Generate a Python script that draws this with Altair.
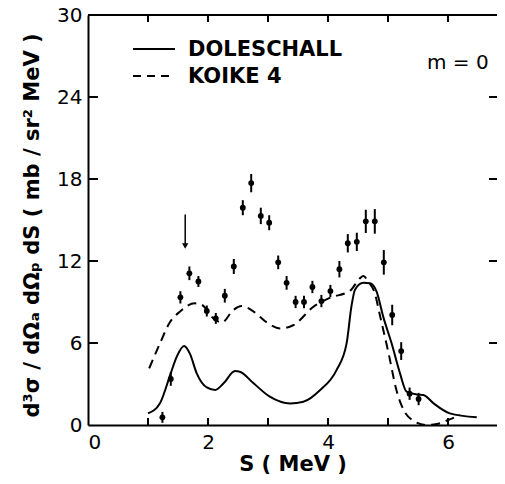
import altair as alt
import pandas as pd

# ---- data ----
pt_s = [1.24, 1.38, 1.54, 1.69, 1.84, 1.98, 2.13, 2.28, 2.43, 2.58, 2.72, 2.88, 3.02, 3.17, 3.31,
        3.46, 3.60, 3.74, 3.89, 4.04, 4.19, 4.33, 4.48, 4.63, 4.78, 4.93, 5.07, 5.22, 5.36, 5.51]
pt_y = [0.56, 3.37, 9.34, 11.1, 10.5, 8.34, 7.8, 9.46, 11.6, 15.9, 17.7, 15.3, 14.8, 11.9, 10.4,
        9.0, 9.0, 10.1, 9.07, 9.8, 11.4, 13.3, 13.4, 14.9, 14.9, 11.9, 8.05, 5.41, 2.29, 1.9]
pt_err = [0.4, 0.5, 0.45, 0.5, 0.4, 0.4, 0.4, 0.5, 0.55, 0.55, 0.67, 0.6, 0.55, 0.5, 0.5,
          0.45, 0.45, 0.45, 0.45, 0.45, 0.6, 0.67, 0.67, 0.85, 0.9, 0.9, 0.75, 0.65, 0.45, 0.45]

dol_s = [1.0, 1.2, 1.38, 1.48, 1.6, 1.7, 1.81, 1.98, 2.12, 2.26, 2.45, 2.53, 2.76, 3.03, 3.37,
         3.59, 3.87, 4.14, 4.31, 4.39, 4.45, 4.59, 4.7, 4.81, 4.92, 5.06, 5.2, 5.31, 5.48, 5.59,
         5.76, 6.03, 6.48]
dol_y = [0.85, 1.6, 3.8, 5.0, 5.78, 5.2, 3.8, 2.75, 2.56, 3.05, 3.95, 3.9, 3.05, 2.07, 1.58,
         1.7, 2.56, 4.0, 5.97, 8.66, 9.9, 10.4, 10.37, 9.76, 7.93, 5.98, 3.78, 2.44, 2.24, 2.2,
         1.58, 0.85, 0.56]

koi_s = [1.02, 1.2, 1.37, 1.53, 1.78, 1.9, 2.09, 2.23, 2.42, 2.56, 2.76, 2.98, 3.2, 3.42, 3.76,
         4.03, 4.37, 4.53, 4.59, 4.67, 4.78, 4.87, 5.01, 5.14, 5.26, 5.42, 5.64, 5.81, 6.03, 6.2]
koi_y = [4.15, 5.98, 7.56, 8.29, 8.9, 8.78, 7.8, 7.5, 8.4, 8.7, 8.3, 7.5, 7.07, 7.3, 8.66,
         9.3, 9.83, 10.73, 10.9, 10.5, 9.63, 7.93, 5.24, 2.56, 1.1, 0.32, 0.0, 0.07, 0.41, 0.73]

arrow_s = [1.62]
arrow_top = [15.4]
arrow_tip = [13.1]

x_labels = [0, 2, 4, 6]
x_minor = [1, 2, 3, 4, 5, 6]
y_labels = [0, 6, 12, 18, 24, 30]
y_minor = [6, 12, 18, 24]

W, H = 409, 410
FONT = "DejaVu Sans"

xs = alt.Scale(domain=[0, W / 60.0], nice=False, zero=False)
ys = alt.Scale(domain=[0, 30], nice=False)

x_axis = alt.Axis(values=x_labels, format="d", ticks=False, grid=False, domain=True,
                  domainColor="black", domainWidth=2, labelFont=FONT, labelFontSize=20,
                  labelColor="black", labelPadding=7, title="S  ( MeV )", titleFont=FONT,
                  titleFontSize=21, titleFontWeight="bold", titleColor="black",
                  titleY=45, titleBaseline="alphabetic")
y_axis = alt.Axis(values=y_labels, format="d", ticks=False, grid=False, domain=True,
                  domainColor="black", domainWidth=2, labelFont=FONT, labelFontSize=20,
                  labelColor="black", labelPadding=6,
                  title="d³σ / dΩₐ dΩₚ dS     ( mb / sr² MeV )", titleFont=FONT,
                  titleFontSize=21, titleFontWeight="bold", titleColor="black",
                  titleAngle=270, titleX=-56, titleY=210, titleAlign="center",
                  titleBaseline="middle")


def X(f):
    return alt.X(f, scale=xs, axis=x_axis)


def Y(f):
    return alt.Y(f, scale=ys, axis=y_axis)


pts = pd.DataFrame({"s": pt_s, "y": pt_y, "err": pt_err})
pts["lo"] = pts["y"] - pts["err"]
pts["hi"] = pts["y"] + pts["err"]
dol = pd.DataFrame({"s": dol_s, "y": dol_y})
koi = pd.DataFrame({"s": koi_s, "y": koi_y})
arr = pd.DataFrame({"s": arrow_s, "top": arrow_top, "tip": arrow_tip})
one = pd.DataFrame({"a": [0]})

sol_line = alt.Chart(dol).mark_line(color="black", strokeWidth=2, interpolate="monotone").encode(
    x=X("s:Q"), y=Y("y:Q"))
dash_line = alt.Chart(koi).mark_line(color="black", strokeWidth=2, strokeDash=[9, 6],
                                     interpolate="monotone").encode(x=X("s:Q"), y=Y("y:Q"))
errbars = alt.Chart(pts).mark_rule(color="black", strokeWidth=2).encode(
    x=X("s:Q"), y=Y("lo:Q"), y2="hi:Q")
dots = alt.Chart(pts).mark_circle(color="black", opacity=1, size=34).encode(
    x=X("s:Q"), y=Y("y:Q"))
arrow_shaft = alt.Chart(arr).mark_rule(color="black", strokeWidth=1.5).encode(
    x=X("s:Q"), y=Y("top:Q"), y2="tip:Q")
arrow_head = alt.Chart(arr).mark_point(shape="triangle-down", filled=True, color="black",
                                       opacity=1, size=40).encode(x=X("s:Q"), y=Y("tip:Q"))

# inward ticks
tick_bottom = alt.Chart(pd.DataFrame({"t": x_minor})).mark_rule(color="black", strokeWidth=2).encode(
    x=X("t:Q"), y=alt.value(H), y2=alt.value(H - 7))
tick_top = alt.Chart(pd.DataFrame({"t": x_minor})).mark_rule(color="black", strokeWidth=2).encode(
    x=X("t:Q"), y=alt.value(0), y2=alt.value(7))
tick_left = alt.Chart(pd.DataFrame({"t": y_minor})).mark_rule(color="black", strokeWidth=2).encode(
    y=Y("t:Q"), x=alt.value(0), x2=alt.value(10))
tick_right = alt.Chart(pd.DataFrame({"t": y_minor})).mark_rule(color="black", strokeWidth=2).encode(
    y=Y("t:Q"), x=alt.value(W - 8), x2=alt.value(W))
top_frame = alt.Chart(one).mark_rule(color="black", strokeWidth=2).encode(
    x=alt.value(0), x2=alt.value(W), y=alt.value(0))

# legend
leg_solid = alt.Chart(one).mark_rule(color="black", strokeWidth=2).encode(
    x=alt.value(45), x2=alt.value(87), y=alt.value(34))
leg_dash = alt.Chart(one).mark_rule(color="black", strokeWidth=2, strokeDash=[8, 6]).encode(
    x=alt.value(45), x2=alt.value(87), y=alt.value(61))
leg_t1 = alt.Chart(one).mark_text(align="left", baseline="middle", font=FONT, fontSize=21,
                                  fontWeight="bold", color="black").encode(
    x=alt.value(100), y=alt.value(35), text=alt.value("DOLESCHALL"))
leg_t2 = alt.Chart(one).mark_text(align="left", baseline="middle", font=FONT, fontSize=21,
                                  fontWeight="bold", color="black").encode(
    x=alt.value(100), y=alt.value(62), text=alt.value("KOIKE  4"))
m_text = alt.Chart(one).mark_text(align="left", baseline="middle", font=FONT, fontSize=20,
                                  color="black").encode(
    x=alt.value(339), y=alt.value(48), text=alt.value("m = 0"))

chart = alt.layer(
    sol_line, dash_line, errbars, dots, arrow_shaft, arrow_head,
    tick_bottom, tick_top, tick_left, tick_right, top_frame,
    leg_solid, leg_dash, leg_t1, leg_t2, m_text
).properties(
    width=W, height=H,
    autosize=alt.AutoSizeParams(type="none"),
    padding={"left": 80, "top": 7, "right": 0, "bottom": 51},
    background="white"
).configure_view(stroke=None)

chart.save("out.html", embed_options={"renderer": "svg", "actions": False})
